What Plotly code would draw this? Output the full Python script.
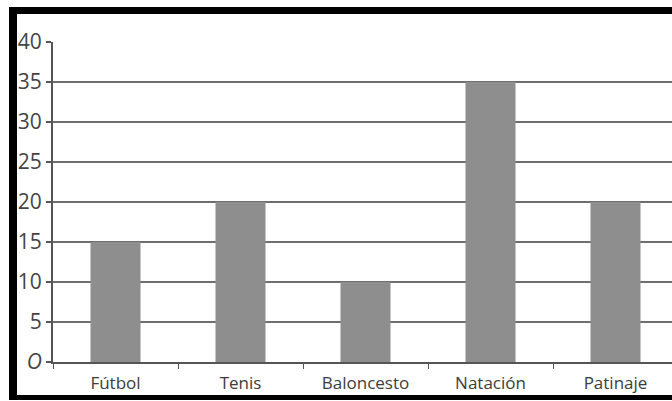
import plotly.graph_objects as go

categories = ["Fútbol", "Tenis", "Baloncesto", "Natación", "Patinaje"]
values = [15, 20, 10, 35, 20]
tick_vals = [0, 5, 10, 15, 20, 25, 30, 35, 40]
tick_text = ["<i>O</i>", "5", "10", "15", "20", "25", "30", "35", "40"]

W, H = 672, 401
L, R, T, B = 53, 0, 42, 39
pw, ph = W - L - R, H - T - B

def px(x):
    return (x - L) / pw

def py(y):
    return (H - B - y) / ph

fig = go.Figure()
fig.add_trace(go.Bar(
    x=categories, y=values,
    marker=dict(color="#8e8e8e", line=dict(width=0)),
    width=0.4,
))

fig.update_layout(
    width=W, height=H,
    margin=dict(l=L, r=R, t=T, b=B),
    paper_bgcolor="white", plot_bgcolor="white",
    showlegend=False,
    font=dict(family="Open Sans", color="#444444"),
    xaxis=dict(
        range=[-0.5, -0.5 + pw / 125.0],
        showgrid=False, zeroline=False,
        showline=True, linecolor="#555555", linewidth=2,
        ticks="outside", tickson="boundaries", ticklen=5, tickcolor="#555555", tickwidth=1,
        tickfont=dict(size=17, color="#3c3c3c"),
        ticklabelstandoff=5,
    ),
    yaxis=dict(
        range=[0, 40], tickvals=tick_vals, ticktext=tick_text,
        showgrid=True, gridcolor="#6e6e6e", gridwidth=2,
        zeroline=False,
        showline=True, linecolor="#555555", linewidth=2,
        ticks="outside", ticklen=5, tickcolor="#555555", tickwidth=2,
        tickfont=dict(size=21, color="#444444"),
    ),
)

# black frame (top, left, bottom)
frame = [
    (9, 7, W + 5, 14),
    (9, 7, 17, 400),
    (9, 395, W + 5, 400),
]
for x0, y0, x1, y1 in frame:
    fig.add_shape(type="rect", xref="paper", yref="paper",
                  x0=px(x0), x1=px(x1), y0=py(y1), y1=py(y0),
                  fillcolor="black", line=dict(width=0), layer="above")

fig.write_html("out.html", config={"displayModeBar": False},
               post_script="document.body.style.margin='0px';")
